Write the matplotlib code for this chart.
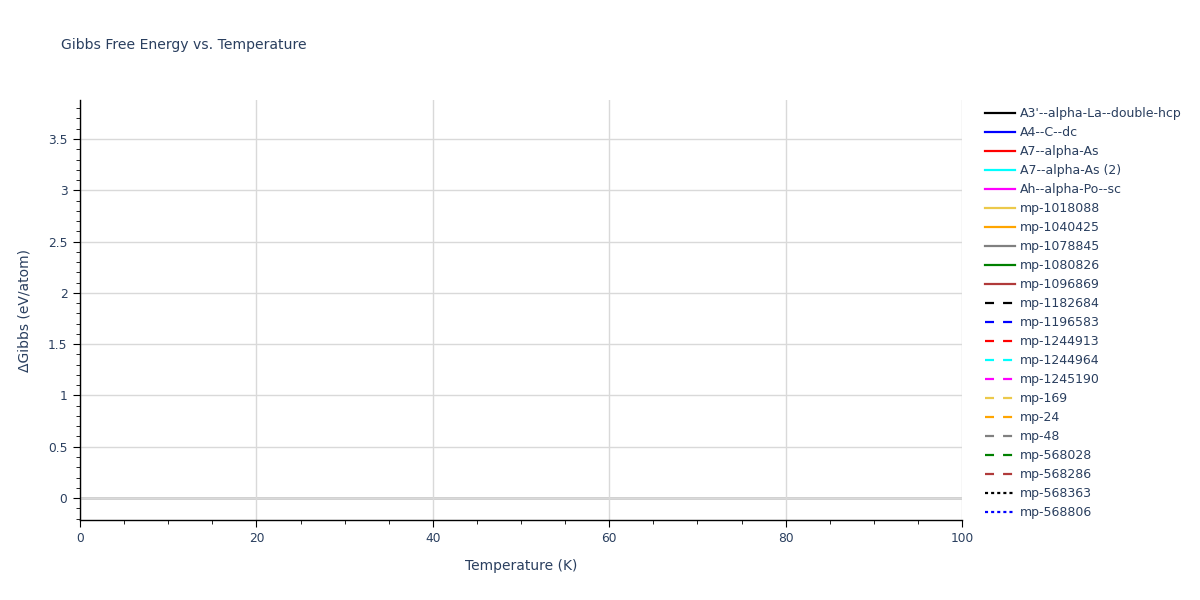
import matplotlib
matplotlib.use("Agg")
import matplotlib.pyplot as plt
from matplotlib.ticker import MultipleLocator

# series names as listed in the legend
names = ["A3'--alpha-La--double-hcp", "A4--C--dc", "A7--alpha-As", "A7--alpha-As (2)",
         "Ah--alpha-Po--sc", "mp-1018088", "mp-1040425", "mp-1078845", "mp-1080826",
         "mp-1096869", "mp-1182684", "mp-1196583", "mp-1244913", "mp-1244964",
         "mp-1245190", "mp-169", "mp-24", "mp-48", "mp-568028", "mp-568286",
         "mp-568363", "mp-568806"]
colors = ["black", "blue", "red", "cyan", "magenta", "#ecc94b", "orange", "gray",
          "green", "#b03a3a"]
# no curve points fall inside the visible range in the reference
temps = []
gibbs = {n: [] for n in names}

plt.rcParams['font.family'] = ['DejaVu Sans']
plt.rcParams['lines.scale_dashes'] = False
txt = '#2a3f5f'

fig = plt.figure(figsize=(12, 6), dpi=100)
ax = fig.add_axes([80/1200, 80/600, 882/1200, 420/600])

handles = []
for i, n in enumerate(names):
    c = colors[i % 10]
    if i < 10:
        ls = '-'
    elif i < 20:
        ls = (0, (6.5, 6.5))
    else:
        ls = (0, (2.2, 2.2))
    h, = ax.plot(temps, gibbs[n], color=c, linestyle=ls, lw=1.6, label=n)
    handles.append(h)

ax.set_xlim(0, 100)
ax.set_ylim(-0.214, 3.88)
ax.xaxis.set_major_locator(MultipleLocator(20))
ax.xaxis.set_minor_locator(MultipleLocator(5))
ax.yaxis.set_minor_locator(MultipleLocator(0.1))
ax.set_yticks([0, 0.5, 1, 1.5, 2, 2.5, 3, 3.5])
ax.set_yticklabels(['0', '0.5', '1', '1.5', '2', '2.5', '3', '3.5'])

ax.grid(True, which='major', color='#d9d9d9', lw=1)
ax.axhline(0, color='#cccccc', lw=2, zorder=1)
for s in ['top', 'right']:
    ax.spines[s].set_visible(False)
for s in ['left', 'bottom']:
    ax.spines[s].set_color('black')
    ax.spines[s].set_linewidth(1)
ax.tick_params(which='major', direction='out', length=5, color='black',
               labelsize=8.8, labelcolor=txt, pad=4)
ax.tick_params(which='minor', direction='out', length=3, color='black')

ax.set_xlabel('Temperature (K)', fontsize=10, color=txt, labelpad=10)
ax.set_ylabel('ΔGibbs (eV/atom)', fontsize=10, color=txt, labelpad=12)
fig.text(61/1200, 1 - 45/600, 'Gibbs Free Energy vs. Temperature', fontsize=10.1,
         color=txt, va='center', ha='left')

leg = fig.legend(handles=handles, loc='upper left', bbox_to_anchor=(985/1200, 1 - 107/600),
                 frameon=False, fontsize=9, labelspacing=0.48, handlelength=2.4,
                 handletextpad=0.4, borderaxespad=0, borderpad=0)
for t in leg.get_texts():
    t.set_color(txt)

fig.savefig('out.png', dpi=100)
